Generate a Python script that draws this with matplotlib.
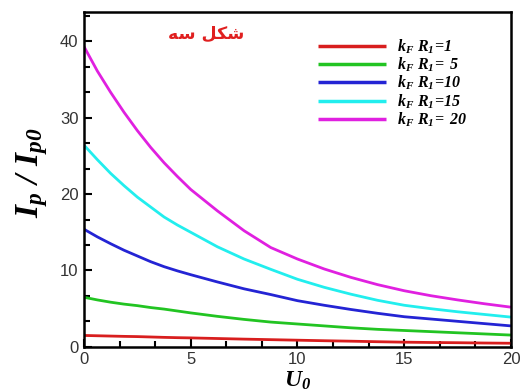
import matplotlib
matplotlib.use("Agg")
import matplotlib.pyplot as plt
from matplotlib.ticker import MultipleLocator

plt.rcParams['mathtext.fontset'] = 'custom'
plt.rcParams['mathtext.it'] = 'Liberation Serif:bold:italic'
plt.rcParams['mathtext.rm'] = 'Liberation Serif:bold:italic'
plt.rcParams['mathtext.bf'] = 'Liberation Serif:bold:italic'

U = [0, 0.625, 1.25, 1.875, 2.5, 3.125, 3.75, 4.375, 5, 6.25, 7.5, 8.75,
     10, 11.25, 12.5, 13.75, 15, 16.25, 17.5, 18.75, 20]
kr1 = [1.5, 1.46, 1.42, 1.38, 1.35, 1.3, 1.25, 1.21, 1.18, 1.1, 1.02, 0.95,
       0.88, 0.81, 0.75, 0.68, 0.62, 0.58, 0.55, 0.51, 0.48]
kr5 = [6.5, 6.15, 5.85, 5.6, 5.4, 5.15, 4.95, 4.7, 4.45, 4.0, 3.6, 3.25,
       3.0, 2.75, 2.5, 2.3, 2.15, 2.0, 1.85, 1.7, 1.55]
kr10 = [15.4, 14.4, 13.5, 12.65, 11.9, 11.15, 10.5, 9.95, 9.45, 8.5, 7.6, 6.85,
        6.05, 5.45, 4.9, 4.4, 3.95, 3.65, 3.35, 3.05, 2.75]
kr15 = [26.4, 24.5, 22.7, 21.1, 19.6, 18.3, 17.0, 15.95, 15.0, 13.1, 11.5, 10.15,
        8.85, 7.8, 6.9, 6.1, 5.45, 5.0, 4.6, 4.25, 3.9]
kr20 = [39.3, 36.1, 33.3, 30.7, 28.3, 26.1, 24.1, 22.3, 20.6, 17.8, 15.2, 13.0,
        11.5, 10.2, 9.1, 8.15, 7.35, 6.7, 6.15, 5.65, 5.2]

series = [kr1, kr5, kr10, kr15, kr20]
labels = [r'$k_F\ R_1\!=\!1$', r'$k_F\ R_1\!=\ 5$', r'$k_F\ R_1\!=\!10$',
          r'$k_F\ R_1\!=\!15$', r'$k_F\ R_1\!=\ 20$']
colors = ['#d81e1e', '#22c422', '#2424d4', '#22eeee', '#e020e0']

fig = plt.figure(figsize=(5.23, 3.92), dpi=100)
ax = fig.add_axes([0.1606, 0.115, 0.8164, 0.854])

for y, lab, c in zip(series, labels, colors):
    ax.plot(U, y, color=c, lw=2.0, label=lab, solid_capstyle='butt')

ax.set_xlim(0, 20)
ax.set_ylim(0, 43.8)
ax.xaxis.set_major_locator(MultipleLocator(5))
ax.xaxis.set_minor_locator(MultipleLocator(5 / 3))
ax.yaxis.set_major_locator(MultipleLocator(10))
ax.yaxis.set_minor_locator(MultipleLocator(10 / 3))
ax.tick_params(which='both', direction='in', top=False, right=False,
               width=1.5, colors='black', labelcolor='#333333')
ax.tick_params(which='major', length=6, labelsize=12, pad=4)
ax.tick_params(which='minor', length=4)
for lbl in ax.get_xticklabels() + ax.get_yticklabels():
    lbl.set_fontfamily('Liberation Sans')
for sp in ax.spines.values():
    sp.set_linewidth(1.8)
    sp.set_color('black')

ax.set_ylabel(r'$I_p\ /\ I_{p0}$', fontsize=24)
ax.yaxis.set_label_coords(-0.08, 0.52)
ax.set_xlabel(r'$U_0$', fontsize=17, labelpad=0.5)

leg = ax.legend(loc='upper left', bbox_to_anchor=(0.547, 0.925), frameon=False,
                fontsize=11.5, handlelength=4.3, labelspacing=0.0,
                handletextpad=0.65, borderpad=0, borderaxespad=0)
for line in leg.get_lines():
    line.set_linewidth(2.5)

# Persian caption (presentation forms, visual order)
ax.text(0.287, 0.935, '\uFEEA\uFEB3 \uFEDE\uFB91\uFEB7', transform=ax.transAxes,
        color='#e02020', fontsize=12.5, fontweight='bold',
        family=['DejaVu Sans'], ha='center', va='center')

fig.savefig('out.png', dpi=100)
